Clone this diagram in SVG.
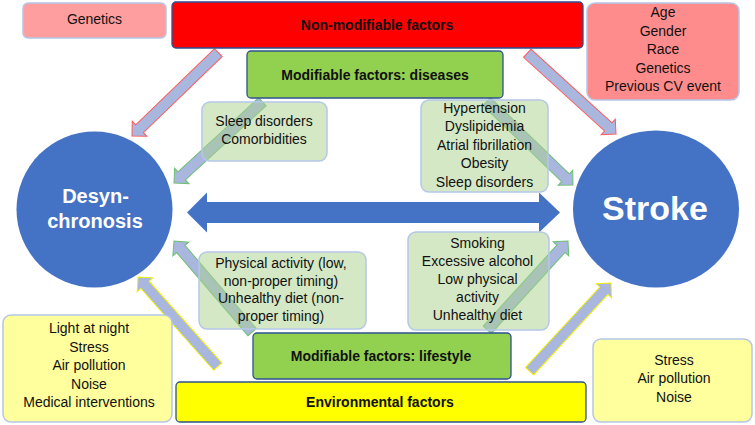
<svg xmlns="http://www.w3.org/2000/svg" width="755" height="425" viewBox="0 0 755 425">
<style>
text{font-family:"Liberation Sans",Arial,sans-serif;font-size:14px;fill:#111;text-anchor:middle}
.b{font-weight:bold}
.w{fill:#fff;font-weight:bold}
.arr{fill:#A9B6DE;stroke-width:1}
.ar{stroke:#FF5A5A}
.ag{stroke:#6CC070}
.ay{stroke:#F2F200}
.hd{stroke:#2F528F;stroke-width:1.3}
.lg{fill:#A9D18E;fill-opacity:0.5;stroke:#B4C7E7;stroke-width:1.5}
.ly{fill:#FFFF9E;stroke:#B4C7E7;stroke-width:1.5}
.pk{stroke:#B4C7E7;stroke-width:1.5}
</style>
<defs>
<path id="ba" d="M -120 -5.5 L -10.5 -5.5 L -10.5 -10.5 L 0 0 L -10.5 10.5 L -10.5 5.5 L -120 5.5 Z"/>
</defs>
<g id="connectors">
<use href="#ba" class="arr ar" transform="translate(132 136) rotate(136)"/>
<use href="#ba" class="arr ar" transform="translate(616 134) rotate(42.3)"/>
<use href="#ba" class="arr ag" transform="translate(174 183) rotate(137.4)"/>
<use href="#ba" class="arr ag" transform="translate(573 185) rotate(44)"/>
<use href="#ba" class="arr ag" transform="translate(174 241) rotate(-130.6)"/>
<use href="#ba" class="arr ay" transform="translate(138 277) rotate(-131.7)"/>
<use href="#ba" class="arr ag" transform="translate(568 241) rotate(-47.7)"/>
<use href="#ba" class="arr ay" transform="translate(611 283) rotate(-47.3)"/>
<path id="double-arrow" d="M 187 212.5 L 207 192.5 L 207 202 L 539 202 L 539 192.5 L 560 212.5 L 539 232.5 L 539 223 L 207 223 L 207 232.5 Z" fill="#4472C4"/>
</g>
<g id="genetics">
<rect x="23" y="3" width="143" height="35" rx="5" fill="#FF9E9E" class="pk"/>
<text x="94.5" y="24">Genetics</text>
</g>
<g id="non-modifiable">
<rect x="172" y="2" width="411" height="46" rx="4" fill="#FF0000" class="hd"/>
<text class="b" x="377" y="29.5">Non-modifiable factors</text>
</g>
<g id="age-box">
<rect x="587" y="3" width="152" height="97" rx="8" fill="#FF8C8C" class="pk"/>
<text x="663" y="17">Age</text>
<text x="663" y="35.5">Gender</text>
<text x="663" y="54">Race</text>
<text x="663" y="72.5">Genetics</text>
<text x="663" y="91">Previous CV event</text>
</g>
<g id="mod-diseases">
<rect x="247" y="51" width="256" height="47" rx="4" fill="#92D050" class="hd"/>
<text class="b" x="375" y="79.5">Modifiable factors: diseases</text>
</g>
<g id="sleep-box">
<rect x="202" y="102" width="125" height="59" rx="8" class="lg"/>
<text x="264" y="125.5">Sleep disorders</text>
<text x="264" y="143.5">Comorbidities</text>
</g>
<g id="hypertension-box">
<rect x="421" y="100" width="127" height="92" rx="8" class="lg"/>
<text x="484.5" y="112.5">Hypertension</text>
<text x="484.5" y="131">Dyslipidemia</text>
<text x="484.5" y="149.5">Atrial fibrillation</text>
<text x="484.5" y="168">Obesity</text>
<text x="484.5" y="186.5">Sleep disorders</text>
</g>
<g id="desynchronosis">
<circle cx="94.5" cy="209.5" r="78" fill="#4472C4"/>
<text class="w" style="font-size:20px" x="95.5" y="203">Desyn-</text>
<text class="w" style="font-size:20px" x="95" y="228">chronosis</text>
</g>
<g id="stroke">
<ellipse cx="656" cy="209" rx="83" ry="78.5" fill="#4472C4"/>
<text class="w" style="font-size:34px" x="655" y="220">Stroke</text>
</g>
<g id="physical-box">
<rect x="199" y="252" width="167" height="77" rx="8" class="lg"/>
<text x="281" y="268">Physical activity (low,</text>
<text x="281" y="285.5">non-proper timing)</text>
<text x="281" y="303">Unhealthy diet (non-</text>
<text x="281" y="320.5">proper timing)</text>
</g>
<g id="smoking-box">
<rect x="408" y="232" width="141" height="98" rx="8" class="lg"/>
<text x="477.5" y="248">Smoking</text>
<text x="477.5" y="266">Excessive alcohol</text>
<text x="477.5" y="284">Low physical</text>
<text x="477.5" y="302">activity</text>
<text x="477.5" y="320">Unhealthy diet</text>
</g>
<g id="mod-lifestyle">
<rect x="253" y="333" width="258" height="46" rx="4" fill="#92D050" class="hd"/>
<text class="b" x="381" y="360.5">Modifiable factors: lifestyle</text>
</g>
<g id="environmental">
<rect x="176" y="382" width="410" height="40" rx="4" fill="#FFFF00" class="hd"/>
<text class="b" x="380" y="407">Environmental factors</text>
</g>
<g id="light-box">
<rect x="3" y="315" width="169" height="107" rx="8" class="ly"/>
<text x="89" y="333">Light at night</text>
<text x="89" y="351.5">Stress</text>
<text x="89" y="370">Air pollution</text>
<text x="89" y="388.5">Noise</text>
<text x="89" y="407">Medical interventions</text>
</g>
<g id="stress-box">
<rect x="593" y="339" width="159" height="83" rx="8" class="ly"/>
<text x="674" y="364.5">Stress</text>
<text x="674" y="383">Air pollution</text>
<text x="674" y="401.5">Noise</text>
</g>
</svg>
